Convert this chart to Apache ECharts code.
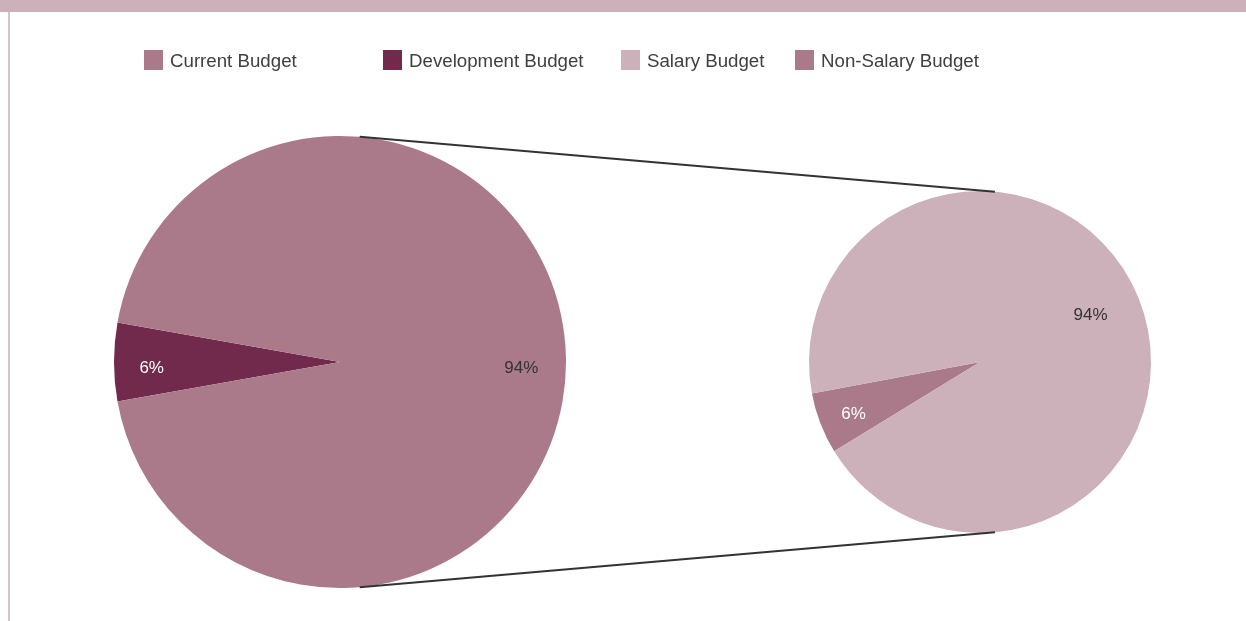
<!DOCTYPE html>
<html>
<head>
<meta charset="utf-8">
<script src="https://cdn.jsdelivr.net/npm/echarts@6/dist/echarts.min.js"></script>
<style>
  html, body { margin: 0; padding: 0; background: #fff; }
  #chart { width: 1246px; height: 621px; }
</style>
</head>
<body>
<div id="chart"></div>
<script>
// 预算数据
var legendNames = ['Current Budget', 'Development Budget', 'Salary Budget', 'Non-Salary Budget'];
var leftNames = ['Development Budget', 'Current Budget'];
var leftValues = [5.6, 94.4];
var rightNames = ['Non-Salary Budget', 'Salary Budget'];
var rightValues = [5.8, 94.2];

var colors = {
    'Current Budget': '#ab7a8a',
    'Development Budget': '#722a4c',
    'Salary Budget': '#cdb1ba',
    'Non-Salary Budget': '#ab7a8a'
};
var labelColors = {
    'Current Budget': '#333333',
    'Development Budget': '#ffffff',
    'Salary Budget': '#333333',
    'Non-Salary Budget': '#ffffff'
};
// 标签微调（padding 让文字偏移）
var labelPads = {
    'Current Budget': [12, 14, 0, 0],
    'Development Budget': [12, 0, 0, 0],
    'Salary Budget': [0, 24, 0, 0],
    'Non-Salary Budget': [10, 8, 0, 0]
};

var font = '"Liberation Sans", Arial, Helvetica, sans-serif';
var leftCenter = [340, 362], leftR = 226;
var rightCenter = [980, 362], rightR = 171;

var buildData = function(names, values){
    var arr = [];
    for (var i = 0; i < names.length; i++){
        arr.push({
            name: names[i],
            value: values[i],
            itemStyle: { color: colors[names[i]] },
            label: {
                rich: {
                    v: {
                        color: labelColors[names[i]],
                        padding: labelPads[names[i]],
                        fontFamily: font,
                        fontSize: 17
                    }
                }
            }
        });
    }
    return arr;
};

// 饼图本体 + 只画标签的透明环
var pieSeries = function(center, r, startAngle, data){
    return {
        type: 'pie',
        center: center,
        radius: [0, r],
        startAngle: startAngle,
        clockwise: true,
        silent: true,
        label: { show: false },
        labelLine: { show: false },
        itemStyle: { borderWidth: 0 },
        data: data
    };
};
var labelSeries = function(center, r, ratio, startAngle, data){
    var d = data.map(function(item){
        return {
            name: item.name,
            value: item.value,
            itemStyle: { color: 'rgba(0,0,0,0)' },
            label: item.label
        };
    });
    return {
        type: 'pie',
        center: center,
        radius: [r * (2 * ratio - 1), r],
        startAngle: startAngle,
        clockwise: true,
        silent: true,
        legendHoverLink: false,
        z: 5,
        label: {
            show: true,
            position: 'inside',
            fontFamily: font,
            fontSize: 17,
            formatter: function(p){ return '{v|' + Math.round(p.percent) + '%}'; }
        },
        labelLine: { show: false },
        data: d
    };
};

var leftData = buildData(leftNames, leftValues);
var rightData = buildData(rightNames, rightValues);
var leftStart = 180 + leftValues[0] / 100 * 360 / 2;
var rightStart = 211.5;

// 连接线端点
var edgePoint = function(center, r, deg){
    var a = deg * Math.PI / 180;
    return [center[0] + r * Math.cos(a), center[1] - r * Math.sin(a)];
};
var lt = edgePoint(leftCenter, leftR, 85), lb = edgePoint(leftCenter, leftR, -85);
var rt = edgePoint(rightCenter, rightR, 85), rb = edgePoint(rightCenter, rightR, -85);

var legendLefts = [144, 383, 621, 795];
var legends = legendNames.map(function(n, i){
    return {
        data: [n],
        left: legendLefts[i],
        top: 50,
        padding: 0,
        icon: 'rect',
        itemWidth: 19,
        itemHeight: 20,
        selectedMode: false,
        formatter: '{t|{name}}',
        textStyle: {
            rich: {
                t: { fontFamily: font, fontSize: 18.7, color: '#404040', padding: [4, 0, 0, 2] }
            }
        }
    };
});

var chart = echarts.init(document.getElementById('chart'));
chart.setOption({
    animation: false,
    backgroundColor: '#ffffff',
    legend: legends,
    graphic: [
        { type: 'rect', shape: { x: 0, y: 0, width: 1246, height: 12 }, style: { fill: '#cdb1ba' }, silent: true },
        { type: 'rect', shape: { x: 8, y: 12, width: 2, height: 609 }, style: { fill: '#d8c2c9' }, silent: true },
        { type: 'line', shape: { x1: lt[0], y1: lt[1], x2: rt[0], y2: rt[1] }, style: { stroke: '#333333', lineWidth: 2 }, silent: true, z: 10 },
        { type: 'line', shape: { x1: lb[0], y1: lb[1], x2: rb[0], y2: rb[1] }, style: { stroke: '#333333', lineWidth: 2 }, silent: true, z: 10 }
    ],
    series: [
        pieSeries(leftCenter, leftR, leftStart, leftData),
        labelSeries(leftCenter, leftR, 0.82, leftStart, leftData),
        pieSeries(rightCenter, rightR, rightStart, rightData),
        labelSeries(rightCenter, rightR, 0.75, rightStart, rightData)
    ]
});
</script>
</body>
</html>
